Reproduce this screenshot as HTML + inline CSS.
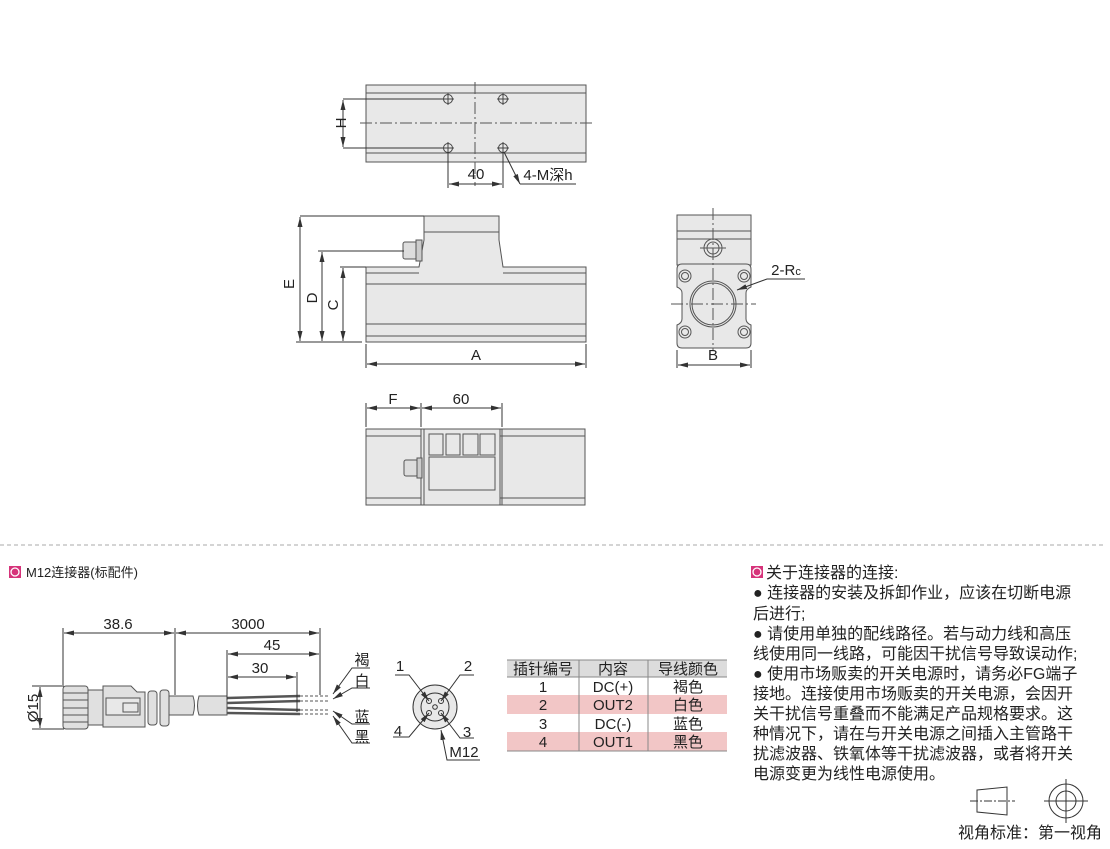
<!DOCTYPE html>
<html><head><meta charset="utf-8"><style>
html,body{margin:0;padding:0;background:#fff;}
svg{display:block;}
text{font-family:"Liberation Sans","Noto Sans CJK SC",sans-serif;fill:#222;}
</style></head><body>
<svg width="1110" height="849" viewBox="0 0 1110 849" xmlns="http://www.w3.org/2000/svg">
<defs>
<marker id="ar" viewBox="0 0 10 6" refX="10" refY="3" markerWidth="10" markerHeight="6" orient="auto-start-reverse" markerUnits="userSpaceOnUse"><path d="M0,0.5 L10,3 L0,5.5 z" fill="#333"/></marker>
</defs>
<g stroke="#555" stroke-width="1" fill="none">
<!-- TOP VIEW -->
<rect x="366" y="85" width="220" height="77" fill="#e8e8e8"/>
<line x1="366" y1="93" x2="586" y2="93"/><line x1="366" y1="153" x2="586" y2="153"/>
<line x1="360" y1="123" x2="592" y2="123" stroke-dasharray="12,3,2,3"/>
<line x1="475" y1="82" x2="475" y2="186" stroke-dasharray="12,3,2,3"/>
<g stroke="#444">
<circle cx="448" cy="99" r="4.5"/><circle cx="503" cy="99" r="4.5"/><circle cx="448" cy="148" r="4.5"/><circle cx="503" cy="148" r="4.5"/>
<path d="M442,99h12M448,93v12M497,99h12M503,93v12M442,148h12M448,142v12M497,148h12M503,142v12"/>
</g>
<path d="M343,99h100M343,148h100" stroke="#333"/>
<line x1="343" y1="100" x2="343" y2="147" stroke="#333" marker-start="url(#ar)" marker-end="url(#ar)"/>
<path d="M448,152v36M503,152v36" stroke="#333"/>
<line x1="449" y1="184" x2="502" y2="184" stroke="#333" marker-start="url(#ar)" marker-end="url(#ar)"/>
<path d="M520,184L504,152M520,184h56" stroke="#333" marker-start="url(#ar)"/>
<!-- FRONT VIEW -->
<path d="M424,216h75v24l4,27h83v75h-220v-75h53l5,-27z" fill="#e8e8e8"/>
<line x1="424" y1="232" x2="499" y2="232"/>
<path d="M366,273h53M503,273h83M366,284h220M366,324h220M366,336h220"/>
<rect x="403" y="242" width="14" height="17" rx="2" fill="#ddd"/>
<rect x="416" y="240" width="6" height="21" fill="#ccc"/>
<path d="M300,216h124M318,251h86M340,267h26M296,342h66" stroke="#333"/>
<line x1="300" y1="217" x2="300" y2="341" stroke="#333" marker-start="url(#ar)" marker-end="url(#ar)"/>
<line x1="322" y1="252" x2="322" y2="341" stroke="#333" marker-start="url(#ar)" marker-end="url(#ar)"/>
<line x1="343" y1="268" x2="343" y2="341" stroke="#333" marker-start="url(#ar)" marker-end="url(#ar)"/>
<path d="M366,344v24M586,344v24" stroke="#333"/>
<line x1="367" y1="364" x2="585" y2="364" stroke="#333" marker-start="url(#ar)" marker-end="url(#ar)"/>
<!-- SIDE VIEW -->
<rect x="677" y="215" width="74" height="50" fill="#e8e8e8"/>
<path d="M677,231h74M677,239h74"/>
<path d="M682,264h64q5,0 5,5v18q-5,2 -5,6v26q0,4 5,6v18q0,5 -5,5h-64q-5,0 -5,-5v-18q5,-2 5,-6v-26q0,-4 -5,-6v-18q0,-5 5,-5z" fill="#e8e8e8"/>
<circle cx="713" cy="248" r="9"/><circle cx="713" cy="248" r="6"/>
<circle cx="713" cy="304" r="23"/><circle cx="713" cy="304" r="21"/>
<g><circle cx="685" cy="276" r="6"/><circle cx="685" cy="276" r="3.5"/><circle cx="744" cy="276" r="6"/><circle cx="744" cy="276" r="3.5"/><circle cx="685" cy="332" r="6"/><circle cx="685" cy="332" r="3.5"/><circle cx="744" cy="332" r="6"/><circle cx="744" cy="332" r="3.5"/></g>
<line x1="713" y1="208" x2="713" y2="350" stroke-dasharray="12,3,2,3"/>
<line x1="671" y1="304" x2="756" y2="304" stroke-dasharray="12,3,2,3"/>
<line x1="700" y1="248" x2="726" y2="248"/>
<path d="M677,350v18M751,350v18" stroke="#333"/>
<line x1="678" y1="365" x2="750" y2="365" stroke="#333" marker-start="url(#ar)" marker-end="url(#ar)"/>
<path d="M805,279h-38L737,290" stroke="#333" marker-end="url(#ar)"/>
<!-- BOTTOM VIEW -->
<rect x="366" y="429" width="219" height="76" fill="#e8e8e8"/>
<path d="M366,436h55M500,436h85M366,498h55M500,498h85M421,429v76M424,429v76M500,429v76M502,429v76"/>
<rect x="429" y="434" width="14" height="21"/><rect x="446" y="434" width="14" height="21"/><rect x="463" y="434" width="15" height="21"/><rect x="480" y="434" width="15" height="21"/>
<rect x="429" y="457" width="66" height="33"/>
<rect x="404" y="460" width="14" height="16" rx="2" fill="#ddd"/><rect x="417" y="458" width="5" height="20" fill="#ccc"/>
<path d="M366,403v24M421,403v24M502,403v24" stroke="#333"/>
<line x1="367" y1="408" x2="420" y2="408" stroke="#333" marker-start="url(#ar)" marker-end="url(#ar)"/>
<line x1="422" y1="408" x2="501" y2="408" stroke="#333" marker-start="url(#ar)" marker-end="url(#ar)"/>
</g>
<!-- dim labels -->
<g font-size="15" text-anchor="middle">
<text x="341" y="128" transform="rotate(-90 341 123)">H</text>
<text x="476" y="179">40</text>
<text x="548" y="180">4-M深h</text>
<text x="294" y="284" transform="rotate(-90 294 284)">E</text>
<text x="317" y="298" transform="rotate(-90 317 298)">D</text>
<text x="338" y="305" transform="rotate(-90 338 305)">C</text>
<text x="476" y="360">A</text>
<text x="713" y="360">B</text>
<text x="786" y="275">2-R<tspan font-size="11">c</tspan></text>
<text x="393" y="404">F</text>
<text x="461" y="404">60</text>
</g>
<line x1="0" y1="545" x2="1105" y2="545" stroke="#aaa" stroke-dasharray="4,3"/>
<!-- section heading -->
<rect x="9" y="566" width="12" height="12" fill="#d6337a"/><circle cx="15" cy="572" r="4" fill="none" stroke="#fff" stroke-width="1.3"/>
<text x="26" y="577" font-size="13">M12连接器(标配件)</text>
<!-- CONNECTOR -->
<g stroke="#555" fill="#e0e0e0" stroke-width="1">
<rect x="63" y="686" width="25" height="43" rx="3"/>
<path d="M63,693h25M63,700h25M63,708h25M63,715h25M63,722h25" fill="none"/>
<rect x="88" y="690" width="15" height="35"/>
<path d="M103,686h28l6,6h8v35h-42z"/>
<rect x="106" y="698" width="34" height="17" fill="#e8e8e8"/>
<rect x="123" y="703" width="15" height="9" fill="#e8e8e8"/>
<rect x="148" y="691" width="9" height="34" rx="3"/><rect x="160" y="690" width="9" height="36" rx="3"/>
<path d="M169,696h24q3,9 0,19h-24z"/>
<path d="M199,696h28v19h-28q-3,-9 0,-19z"/>
<path d="M227,698L300,696M227,703L300,701M227,708L300,710M227,713L300,714" fill="none" stroke-width="2.5"/>
<path d="M300,696h30M300,701h30M300,710h30M300,714h30" fill="none" stroke-dasharray="3,2"/>
</g>
<g stroke="#333" fill="none">
<path d="M63,628v57M175,628v67M227,650v50M297,672v40M320,628v67M32,686h32M32,729h32"/>
<line x1="64" y1="633" x2="174" y2="633" marker-start="url(#ar)" marker-end="url(#ar)"/>
<line x1="176" y1="633" x2="319" y2="633" marker-start="url(#ar)" marker-end="url(#ar)"/>
<line x1="228" y1="654" x2="319" y2="654" marker-start="url(#ar)" marker-end="url(#ar)"/>
<line x1="228" y1="677" x2="296" y2="677" marker-start="url(#ar)" marker-end="url(#ar)"/>
<line x1="40" y1="687" x2="40" y2="728" marker-start="url(#ar)" marker-end="url(#ar)"/>
<path d="M370,668h-18L333,694" marker-end="url(#ar)"/>
<path d="M370,688h-18L333,699" marker-end="url(#ar)"/>
<path d="M370,724h-18L333,711" marker-end="url(#ar)"/>
<path d="M370,743h-18L333,716" marker-end="url(#ar)"/>
<circle cx="435" cy="707" r="22" fill="#e8e8e8"/><circle cx="435" cy="707" r="14"/>
<circle cx="429" cy="701" r="2.5"/><circle cx="441" cy="701" r="2.5"/><circle cx="429" cy="713" r="2.5"/><circle cx="441" cy="713" r="2.5"/><circle cx="435" cy="707" r="2.3"/>
<path d="M395,675h14L429,701" marker-end="url(#ar)"/>
<path d="M474,675h-14L441,701" marker-end="url(#ar)"/>
<path d="M393,737h16L429,713" marker-end="url(#ar)"/>
<path d="M474,738h-14L441,713" marker-end="url(#ar)"/>
<path d="M480,760h-33L441,730" marker-end="url(#ar)"/>
</g>
<g font-size="15" text-anchor="middle">
<text x="118" y="629">38.6</text><text x="248" y="629">3000</text><text x="272" y="650">45</text><text x="260" y="673">30</text>
<text x="38" y="708" transform="rotate(-90 38 708)">Ø15</text>
<text x="362" y="665">褐</text><text x="362" y="686">白</text><text x="362" y="722">蓝</text><text x="362" y="742">黑</text>
<text x="400" y="671">1</text><text x="468" y="671">2</text><text x="398" y="736">4</text><text x="467" y="737">3</text><text x="464" y="757">M12</text>
</g>
<!-- TABLE -->
<rect x="507" y="660" width="220" height="17" fill="#dcdcdc"/>
<rect x="507" y="695" width="220" height="19" fill="#f2c6c6"/>
<rect x="507" y="732" width="220" height="19" fill="#f2c6c6"/>
<g stroke="#888" fill="none"><path d="M507,660h220M507,677h220M507,751h220M579,660v91M648,660v91"/></g>
<g font-size="15" text-anchor="middle">
<text x="543" y="674">插针编号</text><text x="613" y="674">内容</text><text x="688" y="674">导线颜色</text>
<text x="543" y="692">1</text><text x="613" y="692">DC(+)</text><text x="688" y="692">褐色</text>
<text x="543" y="710">2</text><text x="613" y="710">OUT2</text><text x="688" y="710">白色</text>
<text x="543" y="729">3</text><text x="613" y="729">DC(-)</text><text x="688" y="729">蓝色</text>
<text x="543" y="747">4</text><text x="613" y="747">OUT1</text><text x="688" y="747">黑色</text>
</g>
<!-- NOTES -->
<rect x="751" y="566" width="12" height="12" fill="#d6337a"/><circle cx="757" cy="572" r="4" fill="none" stroke="#fff" stroke-width="1.3"/>
<g font-size="16">
<text x="766" y="578">关于连接器的连接:</text>
<text x="753" y="598">● 连接器的安装及拆卸作业，应该在切断电源</text>
<text x="753" y="619">后进行;</text>
<text x="753" y="639">● 请使用单独的配线路径。若与动力线和高压</text>
<text x="753" y="659">线使用同一线路，可能因干扰信号导致误动作;</text>
<text x="753" y="679">● 使用市场贩卖的开关电源时，请务必FG端子</text>
<text x="753" y="699">接地。连接使用市场贩卖的开关电源，会因开</text>
<text x="753" y="719">关干扰信号重叠而不能满足产品规格要求。这</text>
<text x="753" y="739">种情况下，请在与开关电源之间插入主管路干</text>
<text x="753" y="759">扰滤波器、铁氧体等干扰滤波器，或者将开关</text>
<text x="753" y="779">电源变更为线性电源使用。</text>
<text x="958" y="838">视角标准：第一视角</text>
</g>
<g stroke="#333" fill="none">
<path d="M977,790L1007,787V815L977,812z"/>
<line x1="970" y1="801" x2="1015" y2="801" stroke-dasharray="8,2,2,2"/>
<circle cx="1066" cy="801" r="17"/><circle cx="1066" cy="801" r="10"/>
<path d="M1044,801h44M1066,779v44"/>
</g>
</svg>
</body></html>
